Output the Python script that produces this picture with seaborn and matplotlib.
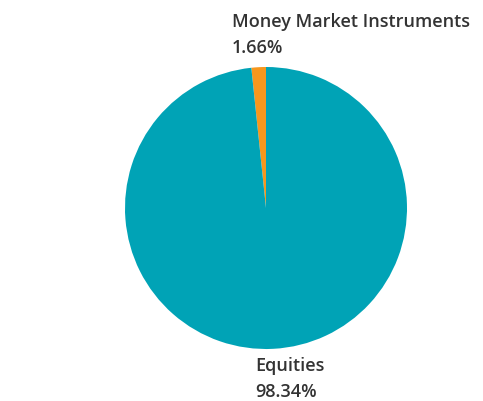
import matplotlib
matplotlib.use("Agg")
import matplotlib.pyplot as plt
import seaborn as sns

categories = ["Money Market Instruments", "Equities"]
values = [1.66, 98.34]
colors = ["#F7971D", "#00A3B6"]

sns.set_theme(style="white")
plt.rcParams['font.family'] = ['Open Sans', 'DejaVu Sans']

fig = plt.figure(figsize=(4.83, 4.01), dpi=100)
ax = fig.add_axes([0, 0, 1, 1])
ax.set_xlim(0, 483)
ax.set_ylim(0, 401)
ax.set_aspect('equal')
ax.axis('off')

ax.pie(values, colors=colors, startangle=90, counterclock=True,
       center=(266, 401 - 208), radius=141,
       wedgeprops=dict(linewidth=0))
ax.set_xlim(0, 483)
ax.set_ylim(0, 401)

txt = dict(color="#333333", fontsize=13, fontweight="semibold", ha="left", va="center")
ax.text(232, 401 - 22, categories[0], **txt)
ax.text(232, 401 - 48, f"{values[0]:.2f}%", **txt)
ax.text(255, 401 - 366, categories[1], **txt)
ax.text(255, 401 - 392, f"{values[1]:.2f}%", **txt)

fig.savefig("out.png", dpi=100)
